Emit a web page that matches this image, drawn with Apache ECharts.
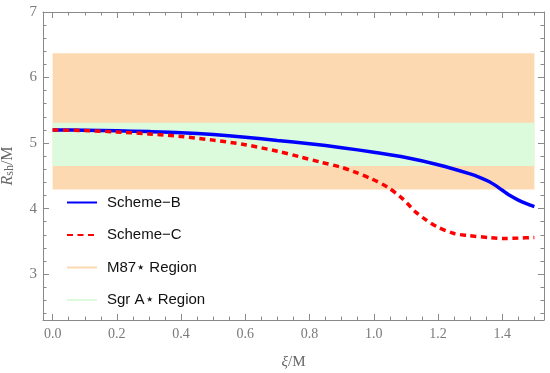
<!DOCTYPE html>
<html>
<head>
<meta charset="utf-8">
<script src="https://cdn.jsdelivr.net/npm/echarts@6/dist/echarts.min.js"></script>
<style>html,body{margin:0;padding:0;background:#fff}#c{width:550px;height:373px}</style>
</head>
<body>
<div id="c"></div>
<script>
// Data
var schemeBX = [0, 0.1, 0.2, 0.3, 0.4, 0.5, 0.6, 0.7, 0.8, 0.9, 1.0, 1.1, 1.2, 1.3, 1.333, 1.36, 1.38, 1.40, 1.42, 1.45, 1.475, 1.5];
var schemeBY = [5.20, 5.197, 5.188, 5.175, 5.158, 5.13, 5.09, 5.04, 4.99, 4.93, 4.86, 4.78, 4.67, 4.53, 4.47, 4.41, 4.35, 4.28, 4.21, 4.13, 4.075, 4.03];
var schemeCX = [0, 0.1, 0.2, 0.3, 0.4, 0.5, 0.6, 0.7, 0.77, 0.833, 0.896, 0.9375, 0.99, 1.042, 1.083, 1.104, 1.13, 1.156, 1.198, 1.25, 1.292, 1.365, 1.406, 1.45, 1.5];
var schemeCY = [5.20, 5.19, 5.17, 5.14, 5.10, 5.045, 4.975, 4.875, 4.79, 4.71, 4.635, 4.565, 4.46, 4.33, 4.18, 4.08, 3.95, 3.85, 3.72, 3.62, 3.59, 3.555, 3.545, 3.55, 3.56];
var m87Region = [4.29, 6.37];
var sgrRegion = [4.65, 5.31];
var regionX = [0, 1.5];
var xMajorTicks = [0, 0.2, 0.4, 0.6, 0.8, 1.0, 1.2, 1.4];
var xMinorTicks = [0.05, 0.1, 0.15, 0.25, 0.3, 0.35, 0.45, 0.5, 0.55, 0.65, 0.7, 0.75, 0.85, 0.9, 0.95, 1.05, 1.1, 1.15, 1.25, 1.3, 1.35, 1.45, 1.5];
var yMajorTicks = [3, 4, 5, 6, 7];
var yMinorTicks = [2.4, 2.6, 2.8, 3.2, 3.4, 3.6, 3.8, 4.2, 4.4, 4.6, 4.8, 5.2, 5.4, 5.6, 5.8, 6.2, 6.4, 6.6, 6.8];
var seriesNames = ['Scheme\u2212B', 'Scheme\u2212C', 'M87\u22c6 Region', 'Sgr A\u22c6 Region'];

function zip(a, b) { return a.map(function (v, i) { return [v, b[i]]; }); }

var frameColor = '#8a8a8a';
var labelColor = '#7a7a7a';
var XMIN = -0.03, XMAX = 1.53, YMIN = 2.3, YMAX = 7;

function xAx(pos, ticks, len, showLine, showLabel) {
  return {
    type: 'value', min: XMIN, max: XMAX, position: pos,
    axisLine: { show: showLine, onZero: false, lineStyle: { color: frameColor, width: 1 } },
    axisTick: { show: true, inside: true, length: len, customValues: ticks, lineStyle: { color: frameColor } },
    axisLabel: showLabel ? { show: true, customValues: ticks, margin: 7, color: labelColor, fontFamily: 'Liberation Serif', fontSize: 14,
      formatter: function (v) { return v.toFixed(1); } } : { show: false },
    splitLine: { show: false }
  };
}
function yAx(pos, ticks, len, showLine, showLabel) {
  return {
    type: 'value', min: YMIN, max: YMAX, position: pos,
    axisLine: { show: showLine, onZero: false, lineStyle: { color: frameColor, width: 1 } },
    axisTick: { show: true, inside: true, length: len, customValues: ticks, lineStyle: { color: frameColor } },
    axisLabel: showLabel ? { show: true, customValues: ticks, margin: 6, color: labelColor, fontFamily: 'Liberation Serif', fontSize: 15,
      formatter: function (v) { return String(v); } } : { show: false },
    splitLine: { show: false }
  };
}

var xAxes = [xAx('bottom', xMajorTicks, 6, true, true), xAx('bottom', xMinorTicks, 3.5, false, false),
             xAx('top', xMajorTicks, 6, true, false), xAx('top', xMinorTicks, 3.5, false, false)];
xAxes[0].name = '{i|\u03be}{n|/M}';
xAxes[0].nameLocation = 'middle';
xAxes[0].nameGap = 35;
xAxes[0].nameTextStyle = { rich: { i: { fontFamily: 'Liberation Serif', fontStyle: 'italic', fontSize: 15, color: '#666' }, n: { fontFamily: 'Liberation Serif', fontSize: 15, color: '#666' } } };

var yAxes = [yAx('left', yMajorTicks, 6, true, true), yAx('left', yMinorTicks, 3.5, false, false),
             yAx('right', yMajorTicks, 6, true, false), yAx('right', yMinorTicks, 3.5, false, false)];
yAxes[0].name = '{i|R}{s|sh}{n|/M}';
yAxes[0].nameLocation = 'middle';
yAxes[0].nameGap = 27;
yAxes[0].nameTextStyle = { rich: {
  i: { fontFamily: 'Liberation Serif', fontStyle: 'italic', fontSize: 16, color: '#666' },
  s: { fontFamily: 'Liberation Serif', fontSize: 12, color: '#666', padding: [5, 0, 0, 0] },
  n: { fontFamily: 'Liberation Serif', fontSize: 16, color: '#666' } } };

var chart = echarts.init(document.getElementById('c'), null, { renderer: 'canvas' });
chart.setOption({
  animation: false,
  backgroundColor: '#fff',
  grid: { left: 43, right: 6, top: 12, bottom: 53, containLabel: false, outerBoundsMode: 'none' },
  xAxis: xAxes,
  yAxis: yAxes,
  legend: {
    orient: 'vertical', left: 61, top: 190,
    itemWidth: 30, itemHeight: 14, itemGap: 17.5,
    data: seriesNames,
    itemStyle: { opacity: 0 },
    textStyle: { fontFamily: 'Liberation Sans', fontSize: 15, color: '#111', padding: [0, 0, 0, 5] }
  },
  series: [
    {
      name: seriesNames[2], type: 'line', z: 1, data: [], symbol: 'none',
      lineStyle: { color: '#fdd9b1', width: 3 }, itemStyle: { color: '#fdd9b1' },
      markArea: { silent: true, itemStyle: { color: '#fdd9b1', opacity: 1 },
        data: [[{ xAxis: regionX[0], yAxis: m87Region[0] }, { xAxis: regionX[1], yAxis: m87Region[1] }]] }
    },
    {
      name: seriesNames[3], type: 'line', z: 1, data: [], symbol: 'none',
      lineStyle: { color: '#dcfadc', width: 3 }, itemStyle: { color: '#dcfadc' },
      markArea: { silent: true, itemStyle: { color: '#dcfadc', opacity: 1 },
        data: [[{ xAxis: regionX[0], yAxis: sgrRegion[0] }, { xAxis: regionX[1], yAxis: sgrRegion[1] }]] }
    },
    {
      name: seriesNames[0], type: 'line', z: 3, smooth: 0.3, symbol: 'none',
      data: zip(schemeBX, schemeBY),
      lineStyle: { color: '#0000ff', width: 3.5 }, itemStyle: { color: '#0000ff' }
    },
    {
      name: seriesNames[1], type: 'line', z: 4, smooth: 0.3, symbol: 'none',
      data: zip(schemeCX, schemeCY),
      lineStyle: { color: '#ff0000', width: 3.5, type: [6, 4.5] }, itemStyle: { color: '#ff0000' }
    }
  ]
});
</script>
</body>
</html>
